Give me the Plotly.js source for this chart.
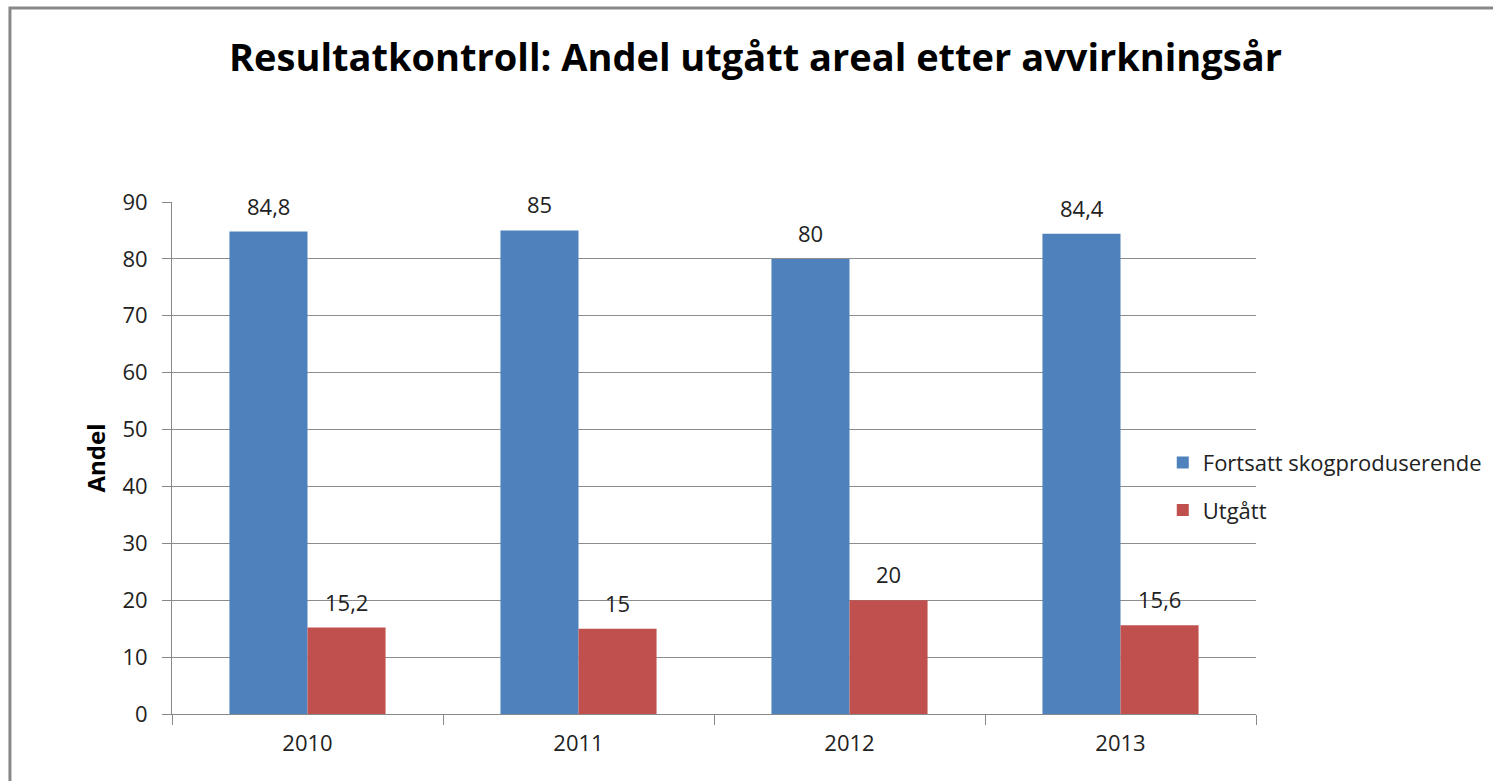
<!DOCTYPE html>
<html>
<head>
<meta charset="utf-8">
<script src="https://cdn.plot.ly/plotly-3.0.1.min.js"></script>
<style>
  body { margin: 0; background: #fff; }
  #chart { width: 1493px; height: 781px; }
</style>
</head>
<body>
<div id="chart"></div>
<script>
// Resultatkontroll: andel per avvirkningsår
var years = ['2010', '2011', '2012', '2013'];
var fortsatt = [84.8, 85, 80, 84.4];
var utgatt = [15.2, 15, 20, 15.6];
var yTicks = [0, 10, 20, 30, 40, 50, 60, 70, 80, 90];

var font = 'Open Sans, sans-serif';
var textCol = '#222';

var traces = [
    {
        x: years,
        y: fortsatt,
        name: 'Fortsatt skogproduserende',
        type: 'bar',
        legendgroup: 'a',
        marker: {color: '#4F81BD'},
        hoverinfo: 'y'
    },
    {
        x: years,
        y: utgatt,
        name: 'Utgått',
        type: 'bar',
        legendgroup: 'b',
        marker: {color: '#C0504D'},
        hoverinfo: 'y'
    }
];

// value labels above each bar, comma as decimal sign
// (x given as category index, numeric-looking names would be read as indices)
var barShift = 39;
var annotations = [];
function addLabels(vals, shift) {
    vals.forEach(function (v, i) {
        annotations.push({
            x: i, y: v, xref: 'x', yref: 'y',
            text: String(v).replace('.', ','),
            showarrow: false,
            xshift: shift, yshift: 9,
            yanchor: 'bottom',
            font: {family: font, size: 22, color: textCol}
        });
    });
}
addLabels(fortsatt, -barShift);
addLabels(utgatt, barShift);

var layout = {
    width: 1493,
    height: 781,
    margin: {l: 172, r: 237, t: 202, b: 67, autoexpand: false},
    paper_bgcolor: '#fff',
    plot_bgcolor: '#fff',
    font: {family: font, color: textCol},
    title: {
        text: '<b>Resultatkontroll: Andel utgått areal etter avvirkningsår</b>',
        font: {family: font, size: 38, color: '#000'},
        x: 0.506, xanchor: 'center',
        y: 0.926, yanchor: 'middle', yref: 'container'
    },
    barmode: 'group',
    bargap: 0.424,
    bargroupgap: 0,
    xaxis: {
        type: 'category',
        range: [-0.5, 3.5],
        tickson: 'boundaries',
        ticks: 'outside',
        ticklen: 10,
        tickcolor: '#888',
        showline: true,
        linecolor: '#888',
        showgrid: false,
        ticklabelstandoff: 10,
        tickfont: {family: font, size: 22, color: textCol}
    },
    yaxis: {
        range: [0, 90],
        tickvals: yTicks,
        ticks: 'outside',
        ticklen: 9,
        tickcolor: '#888',
        showline: true,
        linecolor: '#888',
        gridcolor: '#8c8c8c',
        zeroline: false,
        ticklabelstandoff: 10,
        tickfont: {family: font, size: 22, color: textCol},
        title: {text: '<b>Andel</b>', standoff: 10, font: {family: font, size: 24, color: '#000'}}
    },
    legend: {
        x: 0.914, xanchor: 'left',
        y: 0.444, yanchor: 'middle',
        bgcolor: 'rgba(0,0,0,0)',
        traceorder: 'grouped',
        tracegroupgap: 16,
        font: {family: font, size: 22, color: textCol}
    },
    annotations: annotations,
    shapes: [{
        type: 'rect', xref: 'paper', yref: 'paper',
        x0: -0.1495, x1: 1.3, y0: -0.3, y1: 1.379,
        line: {color: '#888', width: 3}
    }]
};

Plotly.newPlot('chart', traces, layout, {displayModeBar: false});
</script>
</body>
</html>
